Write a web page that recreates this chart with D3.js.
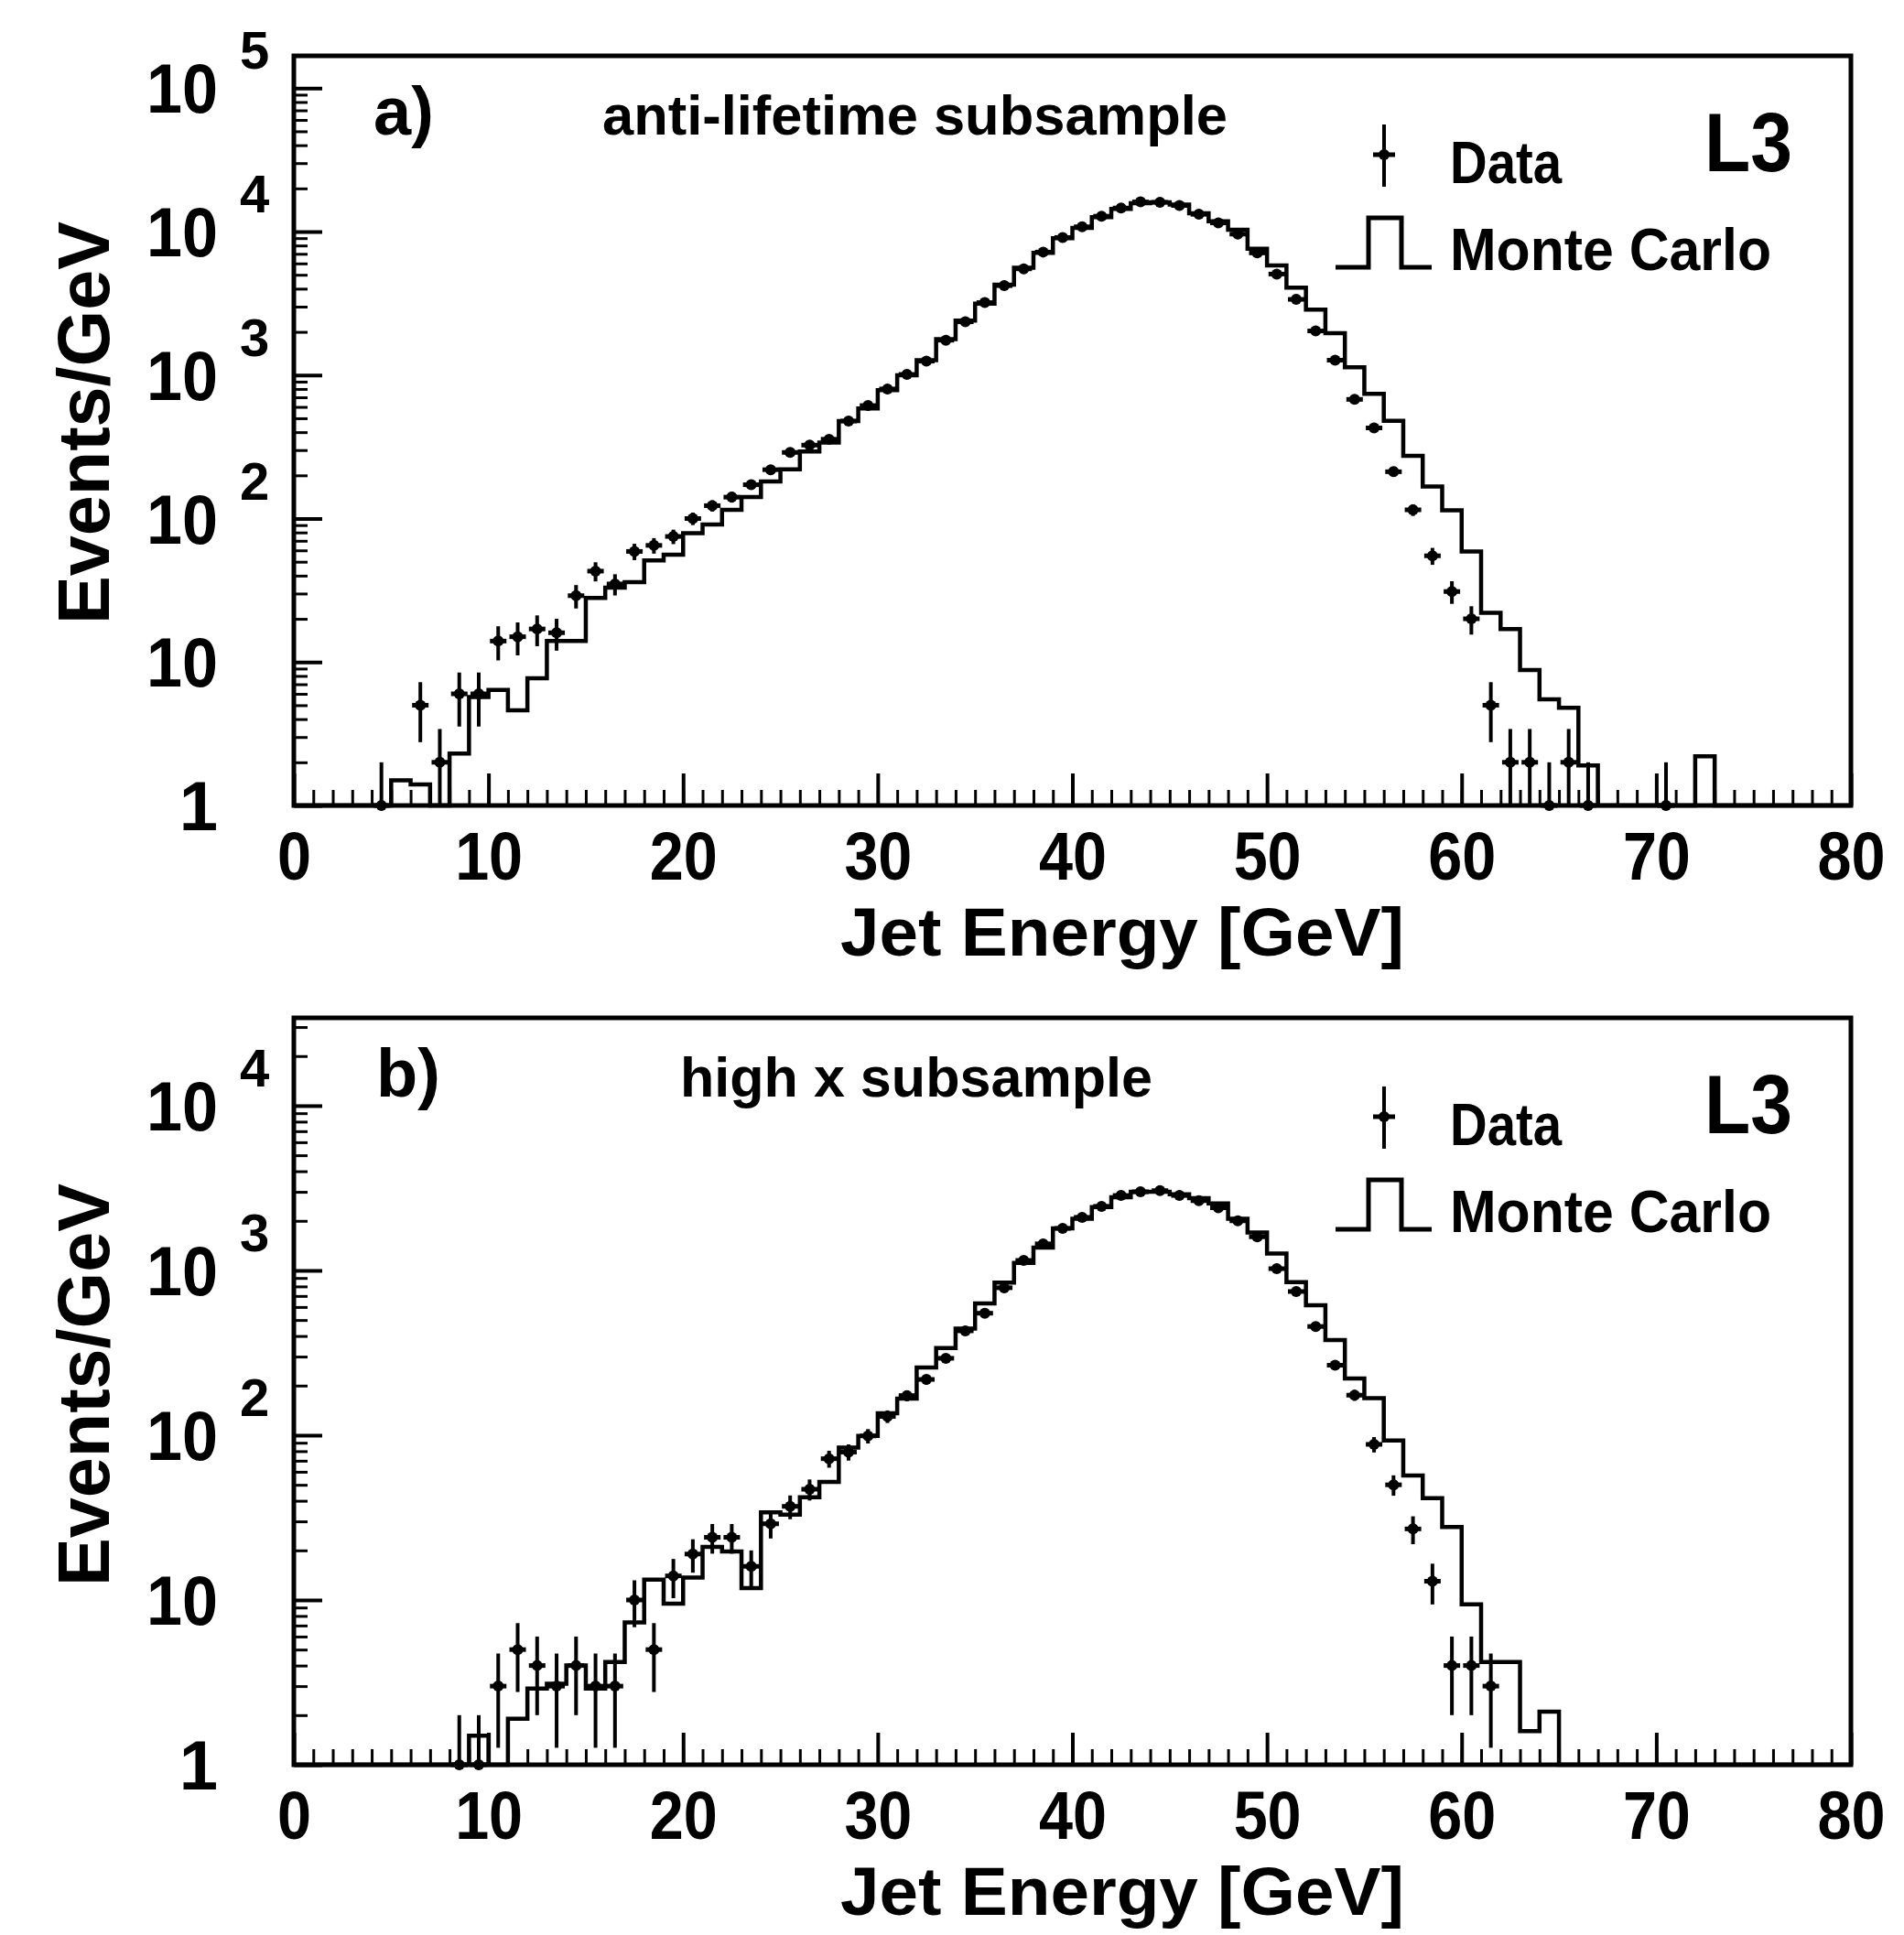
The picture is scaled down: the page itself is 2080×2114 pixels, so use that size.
<!DOCTYPE html>
<html><head><meta charset="utf-8">
<script src="https://cdn.jsdelivr.net/npm/d3@7"></script>
<style>
html,body{margin:0;padding:0;background:#fff;}
svg{display:block;}
text{font-family:"Liberation Sans",Arial,Helvetica,sans-serif;font-weight:bold;fill:#000;}
</style>
</head><body>
<svg id="chart" width="2080" height="2114"></svg>
<script>
// ---------------- data ----------------
// 1 GeV bins, lower edges 0..79
const binLow = d3.range(0, 80);
const xTickValues = [0, 10, 20, 30, 40, 50, 60, 70, 80];
const xTickLabels = ["0", "10", "20", "30", "40", "50", "60", "70", "80"];
const xMinorTicks = d3.range(0, 81);

const yTickValuesA = [1, 10, 100, 1000, 10000, 100000];
const yTickLabelsA = [["1", ""], ["10", ""], ["10", "2"], ["10", "3"], ["10", "4"], ["10", "5"]];
const yTickValuesB = [1, 10, 100, 1000, 10000];
const yTickLabelsB = [["1", ""], ["10", ""], ["10", "2"], ["10", "3"], ["10", "4"]];

// a) anti-lifetime subsample : Monte Carlo (Events/GeV per bin)
const mcA = [
  0, 0, 0, 0, 0, 1.5, 1.4, 0, 2.3, 5.7,
  6.4, 4.6, 7.7, 14, 14, 28, 33, 36, 51, 56,
  79, 91, 115, 141, 181, 220, 293, 338, 478, 585,
  785, 995, 1270, 1780, 2400, 3150, 4270, 5600, 7100, 9000,
  10600, 12600, 14400, 15800, 16000, 15400, 13400, 11800, 10300, 7600,
  5800, 4070, 2860, 1960, 1135, 740, 480, 274, 167, 114,
  59, 22, 17, 8.8, 5.5, 4.8, 1.9, 0, 0, 0,
  0, 0, 2.2, 0, 0, 0, 0, 0, 0, 0
];
// a) Data
const dataA = [
  null, null, null, null, 1, null, 5, 2, 6, 6,
  14, 15, 17, 16, 29, 43, 35, 59, 65, 75,
  100, 123, 141, 172, 219, 289, 325, 357, 478, 613,
  800, 1010, 1250, 1750, 2350, 3200, 4200, 5500, 7200, 9100,
  10800, 12800, 14600, 16100, 16000, 15200, 13200, 11500, 9600, 7100,
  5060, 3370, 2030, 1270, 677, 428, 212, 115, 55, 31,
  20, 5, 2, 2, 1, 2, 1, null, null, null,
  1, null, null, null, null, null, null, null, null, null
];
// b) high x subsample : Monte Carlo
const mcB = [
  0, 0, 0, 0, 0, 0, 0, 0, 0, 1.5,
  0, 1.9, 2.9, 3.1, 4.0, 2.9, 4.2, 7.3, 13.3, 9.5,
  13.7, 21, 19.7, 11.8, 34, 33, 42, 52, 84, 99,
  136, 167, 258, 338, 444, 630, 845, 1110, 1375, 1800,
  2060, 2420, 2780, 3000, 3000, 2900, 2750, 2550, 2060, 1700,
  1265, 850, 615, 378, 221, 168, 93, 57, 41.5, 27.7,
  9.4, 4.2, 4.2, 1.6, 2.1, 0, 0, 0, 0, 0,
  0, 0, 0, 0, 0, 0, 0, 0, 0, 0
];
// b) Data
const dataB = [
  null, null, null, null, null, null, null, null, 1, 1,
  3, 5, 4, 3, 4, 3, 3, 10, 5, 14,
  19, 24, 24, 16, 29, 37, 47, 72, 79, 99,
  130, 174, 218, 293, 430, 550, 785, 1150, 1450, 1800,
  2100, 2450, 2850, 3000, 3050, 2850, 2650, 2400, 2000, 1600,
  1025, 745, 457, 266, 175, 88, 50, 27, 13, 4,
  4, 3, null, null, null, null, null, null, null, null,
  null, null, null, null, null, null, null, null, null, null
];

const panelLabels = ["a)", "b)"];
const panelTitles = ["anti-lifetime subsample", "high x subsample"];
const legendLabels = ["Data", "Monte Carlo"];
const expLabel = "L3";
const xTitle = "Jet Energy [GeV]";
const yTitle = "Events/GeV";

// ---------------- layout ----------------
const svg = d3.select("#chart");
const X0 = 321, X1 = 2022;
const x = d3.scaleLinear().domain([0, 80]).range([X0, X1]);

const panels = [
  { top: 61, bottom: 880, yMax: Math.pow(10, 5.225), mc: mcA, data: dataA,
    ticks: yTickValuesA, tickLabels: yTickLabelsA, label: panelLabels[0], title: panelTitles[0],
    labelX: 408, titleX: 658, titleW: 683 },
  { top: 1112, bottom: 1928, yMax: Math.pow(10, 4.533), mc: mcB, data: dataB,
    ticks: yTickValuesB, tickLabels: yTickLabelsB, label: panelLabels[1], title: panelTitles[1],
    labelX: 411, titleX: 743, titleW: 516 }
];

function drawPanel(p) {
  const y = d3.scaleLog().domain([1, p.yMax]).range([p.bottom, p.top]);
  const g = svg.append("g");

  // x minor ticks
  g.append("g").attr("transform", `translate(0,${p.bottom})`)
    .call(d3.axisBottom(x).tickValues(xMinorTicks).tickSize(-17).tickFormat(""))
    .call(s => { s.select(".domain").remove(); s.selectAll("line").attr("stroke-width", 3); });
  // x major ticks + labels
  g.append("g").attr("transform", `translate(0,${p.bottom})`)
    .call(d3.axisBottom(x).tickValues(xTickValues).tickSize(-35).tickPadding(28)
      .tickFormat((d, i) => xTickLabels[i]))
    .call(s => {
      s.attr("font-size", 74).attr("font-family", null);
      s.select(".domain").remove();
      s.selectAll("line").attr("stroke-width", 4);
      s.selectAll("text").attr("font-size", 74)
        .attr("textLength", function () { return this.textContent.length * 37; })
        .attr("lengthAdjust", "spacingAndGlyphs");
    });

  // y minor ticks
  const yMinor = [];
  [1, 10, 100, 1000, 10000, 100000].forEach(dec => {
    [2, 3, 4, 5, 6, 7, 8, 9].forEach(m => { if (dec * m < p.yMax) yMinor.push(dec * m); });
  });
  g.append("g").attr("transform", `translate(${X0},0)`)
    .call(d3.axisLeft(y).tickValues(yMinor).tickSize(-15).tickFormat(""))
    .call(s => { s.select(".domain").remove(); s.selectAll("line").attr("stroke-width", 3); });
  g.append("g").attr("transform", `translate(${X0},0)`)
    .call(d3.axisLeft(y).tickValues(p.ticks).tickSize(-31).tickFormat(""))
    .call(s => { s.select(".domain").remove(); s.selectAll("line").attr("stroke-width", 4); });

  // y tick labels with superscripts
  p.ticks.forEach((v, i) => {
    const [base, ex] = p.tickLabels[i];
    const yy = y(v);
    const t = g.append("text").attr("x", 238).attr("y", yy + 27)
      .attr("text-anchor", "end").attr("font-size", 76).text(base);
    if (base.length === 2) t.attr("textLength", 78).attr("lengthAdjust", "spacingAndGlyphs");
    if (ex) {
      g.append("text").attr("x", 262).attr("y", yy - 21)
        .attr("font-size", 58).text(ex);
    }
  });

  // Monte Carlo histogram (step line)
  const pts = p.mc.map((v, i) => [binLow[i], v]);
  pts.push([80, p.mc[p.mc.length - 1]]);
  const line = d3.line()
    .x(d => x(d[0]))
    .y(d => y(Math.max(d[1], 1)))
    .curve(d3.curveStepAfter);
  g.append("path").attr("d", line(pts))
    .attr("fill", "none").attr("stroke", "#000").attr("stroke-width", 4.5)
    .attr("stroke-linejoin", "miter");

  // Data points with Poisson error bars
  const dg = g.append("g");
  p.data.forEach((v, i) => {
    if (v == null) return;
    const cx = x(binLow[i] + 0.5);
    const e = Math.sqrt(v);
    const lo = Math.max(v - e, 1), hi = Math.min(v + e, p.yMax);
    dg.append("line").attr("x1", cx).attr("x2", cx).attr("y1", y(lo)).attr("y2", y(hi))
      .attr("stroke", "#000").attr("stroke-width", 4);
    dg.append("line").attr("x1", cx - 9).attr("x2", cx + 9).attr("y1", y(v)).attr("y2", y(v))
      .attr("stroke", "#000").attr("stroke-width", 5);
    dg.append("circle").attr("cx", cx).attr("cy", y(v)).attr("r", 6).attr("fill", "#000");
  });

  // frame
  g.append("rect").attr("x", X0).attr("y", p.top)
    .attr("width", X1 - X0).attr("height", p.bottom - p.top)
    .attr("fill", "none").attr("stroke", "#000").attr("stroke-width", 5);

  // annotations
  const T = p.top;
  g.append("text").attr("x", p.labelX).attr("y", T + 86).attr("font-size", 74).text(p.label);
  g.append("text").attr("x", p.titleX).attr("y", T + 86).attr("font-size", 62)
    .attr("textLength", p.titleW).attr("lengthAdjust", "spacingAndGlyphs").text(p.title);
  g.append("text").attr("x", 1862).attr("y", T + 126).attr("font-size", 90)
    .attr("textLength", 96).attr("lengthAdjust", "spacingAndGlyphs").text(expLabel);

  // legend: Data
  g.append("line").attr("x1", 1512).attr("x2", 1512).attr("y1", T + 75).attr("y2", T + 143)
    .attr("stroke", "#000").attr("stroke-width", 4);
  g.append("line").attr("x1", 1500).attr("x2", 1524).attr("y1", T + 108).attr("y2", T + 108)
    .attr("stroke", "#000").attr("stroke-width", 5);
  g.append("circle").attr("cx", 1512).attr("cy", T + 108).attr("r", 6).attr("fill", "#000");
  g.append("text").attr("x", 1584).attr("y", T + 139).attr("font-size", 64)
    .attr("textLength", 122).attr("lengthAdjust", "spacingAndGlyphs").text(legendLabels[0]);
  // legend: Monte Carlo
  g.append("path")
    .attr("d", `M1459,${T + 231}H1495V${T + 177}H1531V${T + 231}H1564`)
    .attr("fill", "none").attr("stroke", "#000").attr("stroke-width", 5);
  g.append("text").attr("x", 1584).attr("y", T + 234).attr("font-size", 64)
    .attr("textLength", 351).attr("lengthAdjust", "spacingAndGlyphs").text(legendLabels[1]);

  // axis titles
  g.append("text").attr("transform", `translate(119,${T + 401}) rotate(-90)`)
    .attr("text-anchor", "middle").attr("font-size", 80)
    .attr("textLength", 440).attr("lengthAdjust", "spacingAndGlyphs").text(yTitle);
  g.append("text").attr("x", 1226).attr("y", p.bottom + 164)
    .attr("text-anchor", "middle").attr("font-size", 74)
    .attr("textLength", 616).attr("lengthAdjust", "spacingAndGlyphs").text(xTitle);
}

panels.forEach(drawPanel);
</script>
</body></html>
